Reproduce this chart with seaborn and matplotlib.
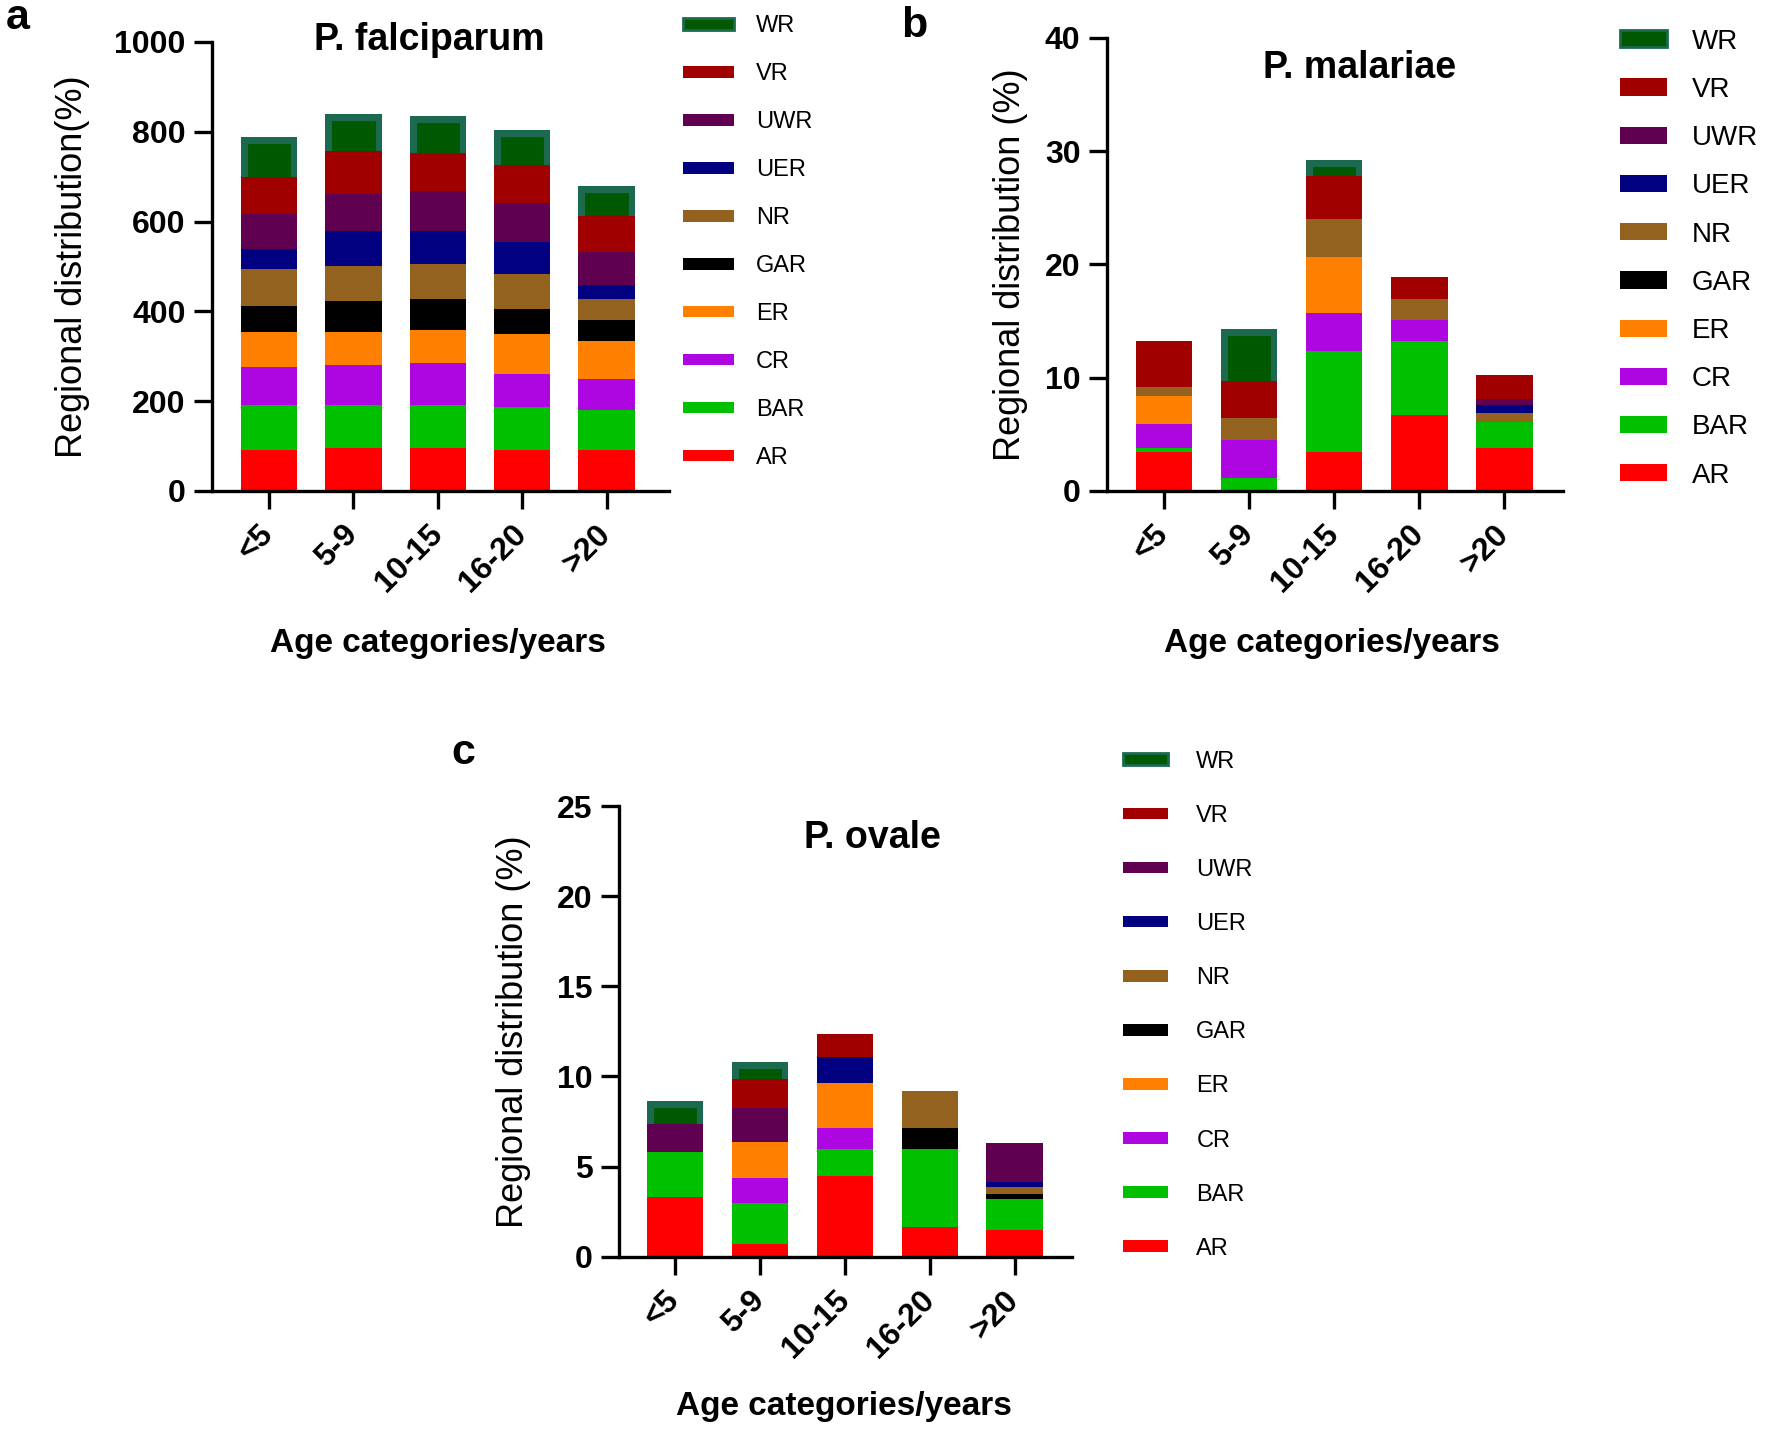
import pandas as pd
import seaborn as sns
import matplotlib.pyplot as plt
from matplotlib.patches import Patch

sns.set_style("ticks")
plt.rcParams["font.family"] = ["Liberation Sans", "DejaVu Sans"]
plt.rcParams["text.color"] = "black"
plt.rcParams["axes.labelcolor"] = "black"
plt.rcParams["xtick.color"] = "black"
plt.rcParams["ytick.color"] = "black"

ages = ["<5", "5-9", "10-15", "16-20", ">20"]
regions = ["AR", "BAR", "CR", "ER", "GAR", "NR", "UER", "UWR", "VR", "WR"]
colors = {
    "AR": "#FF0000", "BAR": "#00C000", "CR": "#AE06E0", "ER": "#FF8000",
    "GAR": "#000000", "NR": "#94621F", "UER": "#000080", "UWR": "#600050",
    "VR": "#A00000", "WR": "#005800",
}
WR_EDGE = "#1B6A50"

# regional share for each age group (<5, 5-9, 10-15, 16-20, >20)
falciparum = {
    "AR":  [92, 96, 96, 92, 92],
    "BAR": [99, 95, 96, 94, 89],
    "CR":  [84, 89, 93, 74, 69],
    "ER":  [78, 74, 73, 89, 83],
    "GAR": [59, 68, 69, 57, 47],
    "NR":  [82, 78, 79, 78, 47],
    "UER": [44, 80, 74, 70, 32],
    "UWR": [78, 82, 88, 88, 73],
    "VR":  [84, 96, 84, 84, 80],
    "WR":  [89, 82, 84, 79, 67],
}
malariae = {
    "AR":  [3.4, 0.0, 3.4, 6.7, 3.8],
    "BAR": [0.4, 1.1, 9.0, 6.5, 2.3],
    "CR":  [2.1, 3.4, 3.3, 1.9, 0.0],
    "ER":  [2.5, 0.0, 5.0, 0.0, 0.0],
    "GAR": [0.0, 0.0, 0.0, 0.0, 0.0],
    "NR":  [0.8, 1.9, 3.3, 1.85, 0.8],
    "UER": [0.0, 0.0, 0.0, 0.0, 0.65],
    "UWR": [0.0, 0.0, 0.0, 0.0, 0.6],
    "VR":  [4.0, 3.3, 3.8, 1.9, 2.1],
    "WR":  [0.0, 4.6, 1.4, 0.0, 0.0],
}
ovale = {
    "AR":  [3.33, 0.70, 4.50, 1.63, 1.48],
    "BAR": [2.46, 2.26, 1.46, 4.35, 1.72],
    "CR":  [0.00, 1.41, 1.16, 0.00, 0.00],
    "ER":  [0.00, 1.98, 2.50, 0.00, 0.00],
    "GAR": [0.00, 0.00, 0.00, 1.14, 0.26],
    "NR":  [0.00, 0.00, 0.00, 2.09, 0.39],
    "UER": [0.00, 0.00, 1.44, 0.00, 0.28],
    "UWR": [1.57, 1.92, 0.00, 0.00, 2.20],
    "VR":  [0.00, 1.59, 1.30, 0.00, 0.00],
    "WR":  [1.30, 0.93, 0.00, 0.00, 0.00],
}


def stacked_panel(ax, values, ymax, step, xlim):
    df = pd.DataFrame(values, index=ages)[regions]
    cum = df.cumsum(axis=1)
    # tallest stack first, each lower region is drawn over it
    for reg in regions[::-1]:
        n0 = len(ax.patches)
        sns.barplot(x=ages, y=cum[reg].values, order=ages, color=colors[reg],
                    saturation=1, width=0.667, errorbar=None, linewidth=0, ax=ax)
        if reg == "WR":
            for p, v in zip(ax.patches[n0:], df[reg]):
                if v > 0:
                    p.set_edgecolor(WR_EDGE)
                    p.set_linewidth(9.5)
                    p.set_clip_path(p)
    ax.set_ylim(0, ymax)
    ax.set_yticks(range(0, ymax + 1, step))
    ax.set_xlim(*xlim)
    sns.despine(ax=ax)
    for s in ["left", "bottom"]:
        ax.spines[s].set_linewidth(2.4)
        ax.spines[s].set_color("black")
    ax.tick_params(axis="both", width=2.4, length=13, labelsize=23, color="black")
    ax.tick_params(axis="y", pad=6)
    ax.tick_params(axis="x", pad=15)
    for lab in ax.get_yticklabels():
        lab.set_fontweight("bold")
    for lab in ax.get_xticklabels():
        lab.set_fontweight("bold")
        lab.set_rotation(45)
        lab.set_ha("right")
        lab.set_va("center")
        lab.set_rotation_mode("anchor")


def add_legend(ax, fs, hl, hh, ls, htp, anchor):
    handles = []
    for reg in regions[::-1]:
        if reg == "WR":
            handles.append(Patch(facecolor=colors[reg], edgecolor=WR_EDGE, linewidth=2, label=reg))
        else:
            handles.append(Patch(facecolor=colors[reg], edgecolor="none", label=reg))
    ax.legend(handles=handles, loc="center left", bbox_to_anchor=anchor,
              bbox_transform=ax.figure.transFigure, frameon=False, fontsize=fs,
              handlelength=hl, handleheight=hh, labelspacing=ls, handletextpad=htp,
              borderpad=0, borderaxespad=0)


fig = plt.figure(figsize=(17.7, 14.33), dpi=100)

panels = [
    # values, axes rect, ymax, step, xlim, title, title pos, ylabel, ylabel x, xlabel pos, legend
    (falciparum, [0.1198, 0.6574, 0.2582, 0.3133], 1000, 200, (-0.675, 4.74),
     "P. falciparum", (0.475, 1.005), "Regional distribution(%)", -0.267, (0.495, -0.305),
     (17, 2.16, 0.38, 1.10, 0.93, (0.3859, 0.8310))),
    (malariae, [0.6254, 0.6574, 0.2576, 0.3161], 40, 10, (-0.67, 4.69),
     "P. malariae", (0.553, 0.934), "Regional distribution (%)", -0.173, (0.493, -0.302),
     (20, 1.69, 0.58, 0.80, 0.9, (0.9153, 0.8195))),
    (ovale, [0.3497, 0.123, 0.2558, 0.3145], 25, 5, (-0.66, 4.67),
     "P. ovale", (0.56, 0.929), "Regional distribution (%)", -0.194, (0.497, -0.297),
     (17, 1.9, 0.38, 1.36, 1.2, (0.6345, 0.2985))),
]

for values, rect, ymax, step, xlim, title, tpos, ylab, ylx, xlpos, leg in panels:
    ax = fig.add_axes(rect)
    stacked_panel(ax, values, ymax, step, xlim)
    ax.text(tpos[0], tpos[1], title, transform=ax.transAxes, ha="center", va="center",
            fontsize=27, fontweight="bold")
    ax.set_ylabel(ylab, fontsize=26)
    ax.yaxis.set_label_coords(ylx, 0.5)
    ax.set_xlabel("Age categories/years", fontsize=24, fontweight="bold")
    ax.xaxis.set_label_coords(*xlpos)
    add_legend(ax, *leg)

fig.text(18 / 1770, 1 - 18 / 1433, "a", fontsize=31, fontweight="bold", ha="center", va="center")
fig.text(914 / 1770, 1 - 26 / 1433, "b", fontsize=31, fontweight="bold", ha="center", va="center")
fig.text(463 / 1770, 1 - 753 / 1433, "c", fontsize=31, fontweight="bold", ha="center", va="center")

fig.savefig("out.png", dpi=100)
